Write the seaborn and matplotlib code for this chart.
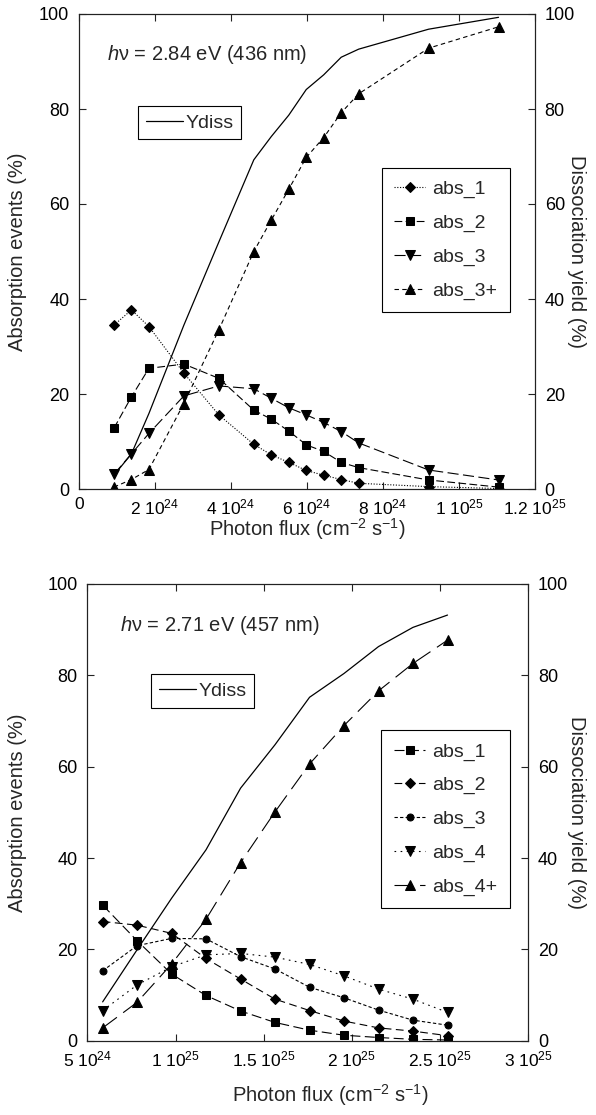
import matplotlib
matplotlib.use("Agg")
import matplotlib.pyplot as plt
import matplotlib.ticker as mticker
import numpy as np
import pandas as pd
import seaborn as sns

# ---- top panel: hv = 2.84 eV (436 nm)
flux_top = [0.92e24, 1.38e24, 1.84e24, 2.76e24, 3.68e24, 4.60e24, 5.06e24,
            5.52e24, 5.98e24, 6.44e24, 6.90e24, 7.36e24, 9.20e24, 1.104e25]
ydiss_top = [2.9, 7.4, 15.9, 34.5, 52.0, 69.3, 74.2, 78.7, 84.1, 87.2, 90.9, 92.6, 96.8, 99.3]
abs1_top = [34.5, 37.7, 34.2, 24.4, 15.6, 9.4, 7.2, 5.6, 3.9, 2.9, 2.0, 1.2, 0.5, 0.1]
abs2_top = [12.8, 19.4, 25.4, 26.3, 23.3, 16.6, 14.7, 12.2, 9.3, 7.9, 5.6, 4.5, 1.9, 0.4]
abs3_top = [3.1, 7.4, 11.7, 19.6, 21.7, 21.1, 19.1, 17.1, 15.6, 14.0, 12.1, 9.7, 4.0, 1.9]
abs3p_top = [0.4, 2.0, 4.1, 18.0, 33.5, 50.0, 56.6, 63.1, 69.8, 74.0, 79.2, 83.2, 92.8, 97.3]
labels_top = ["abs_1", "abs_2", "abs_3", "abs_3+"]
xticks_top = [0, 2e24, 4e24, 6e24, 8e24, 1e25, 1.2e25]

# ---- bottom panel: hv = 2.71 eV (457 nm)
flux_bot = [5.87e24, 7.82e24, 9.78e24, 1.173e25, 1.369e25, 1.564e25,
            1.760e25, 1.955e25, 2.151e25, 2.346e25, 2.542e25]
ydiss_bot = [8.5, 19.9, 31.2, 41.8, 55.3, 64.8, 75.2, 80.4, 86.3, 90.5, 93.2]
abs1_bot = [29.7, 21.9, 14.6, 9.9, 6.5, 4.0, 2.3, 1.2, 0.7, 0.3, 0.15]
abs2_bot = [26.1, 25.3, 23.5, 18.0, 13.5, 9.1, 6.6, 4.3, 2.8, 2.1, 1.1]
abs3_bot = [15.3, 20.8, 22.4, 22.3, 18.4, 15.7, 11.7, 9.4, 6.7, 4.5, 3.4]
abs4_bot = [6.6, 12.2, 16.2, 18.8, 19.1, 18.3, 16.7, 14.2, 11.3, 9.1, 6.2]
abs4p_bot = [2.8, 8.4, 16.8, 26.6, 39.0, 50.1, 60.6, 69.0, 76.6, 82.6, 87.7]
labels_bot = ["abs_1", "abs_2", "abs_3", "abs_4", "abs_4+"]
xticks_bot = [5e24, 1e25, 1.5e25, 2e25, 2.5e25, 3e25]

sns.set_style("ticks")
plt.rcParams["font.family"] = ["Liberation Sans", "DejaVu Sans"]
plt.rcParams["mathtext.fontset"] = "custom"
plt.rcParams["mathtext.rm"] = "Liberation Sans"
plt.rcParams["mathtext.it"] = "Liberation Sans:italic"
plt.rcParams["axes.unicode_minus"] = True


def flux_fmt(v, pos):
    if v == 0:
        return "0"
    exp = int(np.floor(np.log10(v) + 1e-9))
    mant = v / 10 ** exp
    return f"{mant:g} 10$^{{{exp}}}$"


def draw_panel(ax, flux, ydiss, series, labels, styles, xlim, xticks,
               title, ydiss_anchor, abs_anchor, text_xy, ylab_x, xlab_xy):
    ax2 = ax.twinx()
    for vals, lab, (mk, ls, ms) in zip(series, labels, styles):
        sns.lineplot(x=flux, y=vals, ax=ax, color="black", marker=mk, linestyle=ls,
                     markersize=ms, lw=0.8, markeredgecolor="black", label=lab,
                     legend=False)
    sns.lineplot(x=flux, y=ydiss, ax=ax2, color="black", lw=0.9, label="Ydiss", legend=False)

    for a in (ax, ax2):
        a.set_ylim(0, 100)
        a.set_xlim(*xlim)
        a.set_yticks(np.arange(0, 101, 20))
        for s in a.spines.values():
            s.set_linewidth(0.8)
            s.set_color("#222222")
    ax.set_xticks(xticks)
    ax.xaxis.set_major_formatter(mticker.FuncFormatter(flux_fmt))
    ax.tick_params(direction="in", length=5, width=0.8, top=True, right=False,
                   labelsize=13, pad=7, colors="#222222", labelcolor="black")
    ax.tick_params(axis="x", pad=6, labelsize=12.5)
    ax2.tick_params(direction="in", length=5, width=0.8, labelsize=13, pad=7,
                    colors="#222222", labelcolor="black")

    ax.set_xlabel("Photon flux (cm$^{-2}$ s$^{-1}$)", fontsize=14.5)
    ax.set_ylabel("Absorption events (%)", fontsize=14.5)
    ax2.set_ylabel("Dissociation yield (%)", fontsize=14.5, rotation=270, va="center")
    ax.yaxis.set_label_coords(ylab_x[0], 0.5)
    ax2.yaxis.set_label_coords(ylab_x[1], 0.5)
    ax.xaxis.set_label_coords(*xlab_xy)

    ax.text(text_xy[0], text_xy[1], title, transform=ax.transAxes, fontsize=14.5,
            ha="left", va="center")

    leg_kw = dict(frameon=True, fancybox=False, edgecolor="black", framealpha=1,
                  fontsize=14, borderaxespad=0, numpoints=1)
    h2, l2 = ax2.get_legend_handles_labels()
    lg2 = ax2.legend(h2, l2, loc="upper left", bbox_to_anchor=ydiss_anchor,
                     handlelength=1.9, handletextpad=0.15, borderpad=0.4, **leg_kw)
    lg2.get_frame().set_linewidth(0.8)
    h1, l1 = ax.get_legend_handles_labels()
    lg1 = ax.legend(h1, l1, loc="upper right", bbox_to_anchor=abs_anchor,
                    handlelength=1.6, handletextpad=0.35, borderpad=0.65,
                    labelspacing=0.82, **leg_kw)
    lg1.get_frame().set_linewidth(0.8)


fig = plt.figure(figsize=(5.96, 11.15), dpi=100)
ax_top = fig.add_axes([79 / 596, 1 - 489 / 1115, 456 / 596, 475 / 1115])
ax_bot = fig.add_axes([87.3 / 596, 1 - 1040.7 / 1115, 441 / 596, 456.7 / 1115])

styles_top = [("D", (0, (1, 1.5)), 5.5),
              ("s", (0, (7, 3)), 5.5),
              ("v", (0, (10, 4)), 6.5),
              ("^", (0, (4, 3)), 6.5)]
draw_panel(ax_top, flux_top, ydiss_top, [abs1_top, abs2_top, abs3_top, abs3p_top],
           labels_top, styles_top, (0, 1.2e25), xticks_top,
           "$h$ν = 2.84 eV (436 nm)", (0.129, 0.806), (0.945, 0.676),
           (0.061, 0.914), (-0.114, 1.092), (0.5, -0.056))

styles_bot = [("s", (0, (9, 4)), 5.5),
              ("D", (0, (7, 4)), 5.5),
              ("o", (0, (3, 2)), 5),
              ("v", (0, (1.5, 4)), 6.5),
              ("^", (0, (16, 7)), 6.5)]
draw_panel(ax_bot, flux_bot, ydiss_bot, [abs1_bot, abs2_bot, abs3_bot, abs4_bot, abs4p_bot],
           labels_bot, styles_bot, (5e24, 3e25), xticks_bot,
           "$h$ν = 2.71 eV (457 nm)", (0.144, 0.802), (0.958, 0.680),
           (0.074, 0.91), (-0.137, 1.110), (0.55, -0.09))

fig.savefig("out.png", dpi=100)
